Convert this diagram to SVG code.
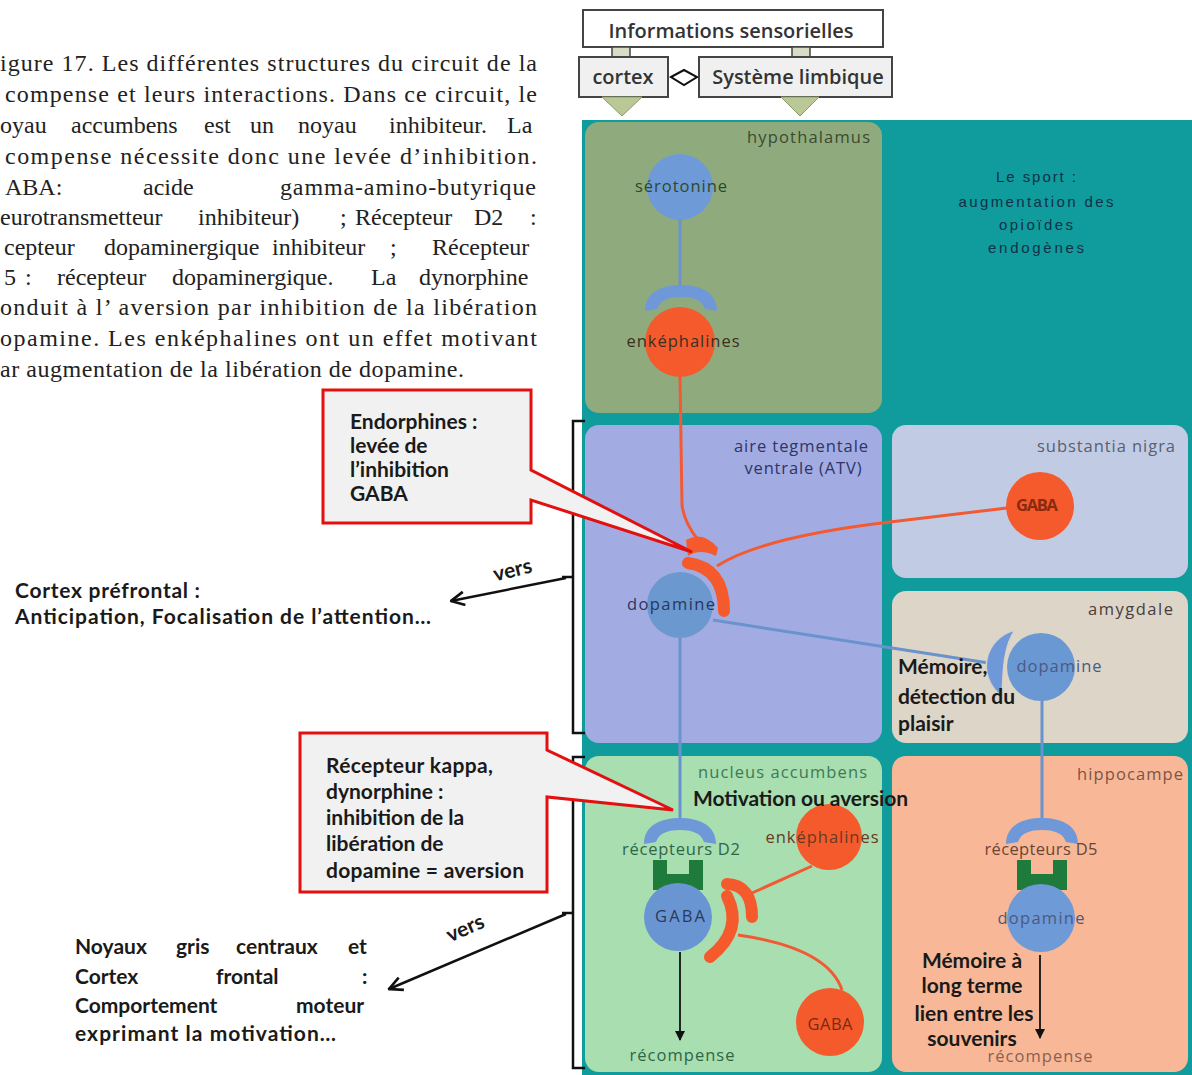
<svg xmlns="http://www.w3.org/2000/svg" width="1192" height="1075" viewBox="0 0 1192 1075">
<defs>
<style>
.para{font-family:"Liberation Serif","Times New Roman",serif;font-size:24px;fill:#222;}
.cal{font-family:Lato,"Open Sans",sans-serif;font-weight:700;font-size:21px;fill:#1a1a1a;}
.lbl{font-family:"Open Sans","Noto Sans",sans-serif;font-size:16.5px;}
.top{font-family:"Open Sans","Noto Sans",sans-serif;font-weight:600;font-size:20px;fill:#333;}
.sport{font-family:"Liberation Sans",Arial,sans-serif;font-size:15px;fill:#12304a;}
.box{fill:#f0f0f0;stroke:#444;stroke-width:2;}
.callout{fill:#f1f1f1;stroke:#e31010;stroke-width:3;stroke-linejoin:miter;}
.bluel{stroke:#6a92cc;stroke-width:3;fill:none;}
.redl{stroke:#f25a34;stroke-width:3;fill:none;}
.redcap{stroke:#f55a2c;stroke-width:12;fill:none;stroke-linecap:round;}
.blk{stroke:#111;stroke-width:2.5;fill:none;}
.mid{text-anchor:middle;}
.end{text-anchor:end;}
</style>
<path id="cap" d="M-36,26 C-36,7 -19,0 0,0 C19,0 36,7 36,26 L24,24 C21,15 12,12 0,12 C-12,12 -21,15 -24,24 Z" fill="#6f98d8"/>
<path id="ushape" d="M-25,0 h14 v14 h22 v-14 h14 v30 h-50 Z" fill="#1e7b3c"/>
<marker id="open" viewBox="0 0 12 12" refX="11" refY="6" markerWidth="16" markerHeight="16" markerUnits="userSpaceOnUse" orient="auto">
<path d="M1,1 L11,6 L1,11" fill="none" stroke="#111" stroke-width="2"/>
</marker>
<marker id="tri" viewBox="0 0 10 10" refX="9" refY="5" markerWidth="10" markerHeight="12" markerUnits="userSpaceOnUse" orient="auto">
<path d="M0,0 L10,5 L0,10 Z" fill="#111"/>
</marker>
</defs>
<rect width="1192" height="1075" fill="#ffffff"/>

<g id="caption">
<text class="para" x="0" y="71" textLength="537">igure 17. Les différentes structures du circuit de la</text>
<text class="para" x="5" y="102" textLength="532">compense et leurs interactions. Dans ce circuit, le</text>
<text class="para" y="133"><tspan x="0">oyau</tspan><tspan x="71">accumbens</tspan><tspan x="204">est</tspan><tspan x="250">un</tspan><tspan x="298">noyau</tspan><tspan x="389">inhibiteur.</tspan><tspan x="507">La</tspan></text>
<text class="para" x="5" y="164" textLength="532">compense nécessite donc une levée d’inhibition.</text>
<text class="para" y="195"><tspan x="5">ABA:</tspan><tspan x="143">acide</tspan></text>
<text class="para" x="280" y="195" textLength="256">gamma-amino-butyrique</text>
<text class="para" y="225"><tspan x="0">eurotransmetteur</tspan><tspan x="198">inhibiteur)</tspan><tspan x="340">;</tspan><tspan x="355">Récepteur</tspan><tspan x="474">D2</tspan><tspan x="530">:</tspan></text>
<text class="para" y="255"><tspan x="4">cepteur</tspan><tspan x="104">dopaminergique</tspan><tspan x="272">inhibiteur</tspan><tspan x="390">;</tspan><tspan x="432">Récepteur</tspan></text>
<text class="para" y="285"><tspan x="4">5</tspan><tspan x="25">:</tspan><tspan x="57">récepteur</tspan><tspan x="172">dopaminergique.</tspan><tspan x="371">La</tspan><tspan x="419">dynorphine</tspan></text>
<text class="para" x="0" y="315" textLength="537">onduit à l’ aversion par inhibition de la libération</text>
<text class="para" x="0" y="346" textLength="537">opamine. Les enképhalines ont un effet motivant</text>
<text class="para" x="0" y="377" textLength="464">ar augmentation de la libération de dopamine.</text>
</g>

<g id="inputs">
<g id="n-info"><rect class="box" x="583" y="10" width="300" height="37" style="fill:#fff"/><text class="top mid" x="731" y="38">Informations sensorielles</text></g>
<rect x="612" y="47" width="18" height="10" fill="#d9dcc4" stroke="#444" stroke-width="1.5"/>
<rect x="792" y="47" width="18" height="10" fill="#d9dcc4" stroke="#444" stroke-width="1.5"/>
<g id="n-cortex"><rect class="box" x="579" y="57" width="89" height="40"/><text class="top mid" x="623" y="84">cortex</text></g>
<g id="n-limbique"><rect class="box" x="699" y="57" width="193" height="40"/><text class="top mid" x="798" y="84">Système limbique</text></g>
<path d="M671,77 L684,70 L697,77 L684,85 Z" fill="#fff" stroke="#111" stroke-width="2"/>
<path d="M602,97 L642,97 L622,116 Z" fill="#b9c894" stroke="#8a9a6a" stroke-width="1"/>
<path d="M781,97 L819,97 L800,116 Z" fill="#b9c894" stroke="#8a9a6a" stroke-width="1"/>
</g>

<g id="background">
<rect x="582" y="120" width="610" height="955" fill="#109c9c"/>
</g>

<g id="n-hypothalamus">
<rect x="585" y="122" width="297" height="291" rx="14" fill="#8fab7e"/>
<text class="lbl end" x="870" y="143" fill="#3b4a2e" textLength="123">hypothalamus</text>
<circle cx="680" cy="187" r="33" fill="#6f9ad8"/>
<text class="lbl mid" x="681" y="192" fill="#2c4a28" textLength="92">sérotonine</text>
<circle cx="680" cy="342" r="35" fill="#f55a2c"/>
<text class="lbl mid" x="683" y="347" fill="#3a3020" textLength="113">enképhalines</text>
</g>

<g id="n-sport">
<text class="sport mid" x="1036" y="182" textLength="80">Le sport :</text>
<text class="sport mid" x="1036" y="207" textLength="155">augmentation des</text>
<text class="sport mid" x="1036" y="230" textLength="74">opioïdes</text>
<text class="sport mid" x="1036" y="253" textLength="96">endogènes</text>
</g>

<g id="n-atv">
<rect x="585" y="425" width="297" height="318" rx="14" fill="#a3ace2"/>
<text class="lbl mid" x="801" y="452" fill="#2d3566" textLength="134">aire tegmentale</text>
<text class="lbl mid" x="803" y="474" fill="#2d3566" textLength="117">ventrale (ATV)</text>
</g>

<g id="n-substantia">
<rect x="892" y="425" width="296" height="153" rx="14" fill="#c1cce4"/>
<text class="lbl end" x="1175" y="452" fill="#59606e" textLength="138">substantia nigra</text>
<circle cx="1040" cy="506" r="34" fill="#f55a2c"/>
<text class="lbl mid" x="1037" y="511" fill="#8a2a10" font-weight="700" textLength="42">GABA</text>
</g>

<g id="n-amygdale">
<rect x="892" y="591" width="296" height="152" rx="14" fill="#dcd5c8"/>
<text class="lbl end" x="1173" y="615" fill="#4a3c3c" textLength="85">amygdale</text>
</g>

<g id="n-nucleus">
<rect x="585" y="756" width="297" height="316" rx="14" fill="#a8deb0"/>
<text class="lbl end" x="867" y="778" fill="#3d7a55" textLength="169">nucleus accumbens</text>
</g>

<g id="n-hippocampe">
<rect x="892" y="756" width="296" height="316" rx="14" fill="#f8b898"/>
<text class="lbl end" x="1183" y="780" fill="#7a5545" textLength="106">hippocampe</text>
</g>

<g id="connectors">
<line class="bluel" x1="680" y1="219" x2="680" y2="286" stroke-width="4"/>
<path class="redl" d="M680,376 L682,505 Q684,522 698,540"/>
<path class="redl" d="M1007,508 L890,522 Q762,537 717,566"/>
<line class="bluel" x1="713" y1="620" x2="995" y2="664"/>
<line class="bluel" x1="680" y1="637" x2="680" y2="821"/>
<line class="bluel" x1="1042" y1="700" x2="1042" y2="821"/>
<path class="redl" d="M812,866 L752,893"/>
<path class="redl" d="M842,990 Q828,948 738,935"/>
<line x1="680" y1="952" x2="680" y2="1040" stroke="#111" stroke-width="1.8" marker-end="url(#tri)"/>
<line x1="1040" y1="955" x2="1040" y2="1038" stroke="#111" stroke-width="1.8" marker-end="url(#tri)"/>
<path class="blk" d="M585,421 H573 V733 H585 M573,577 H562"/>
<path class="blk" d="M585,757 H573 V1068 H585 M573,913 H562"/>
<line class="blk" x1="566" y1="578" x2="451" y2="601" marker-end="url(#open)"/>
<line class="blk" x1="566" y1="914" x2="389" y2="989" marker-end="url(#open)"/>
<text class="cal" x="513" y="577" font-size="16" font-weight="400" text-anchor="middle" transform="rotate(-14 513 572)">vers</text>
<text class="cal" x="466" y="935" font-size="16" font-weight="400" text-anchor="middle" transform="rotate(-24 466 930)">vers</text>
</g>

<g id="n-hyp-receptor"><use href="#cap" x="681" y="285"/></g>

<g id="n-atv-dopamine">
<path d="M686,540 Q703,530 718,548 L716,556 Q700,548 688,556 Z" fill="#f55a2c"/>
<circle cx="680" cy="605" r="33" fill="#6a98cf"/>
<path class="redcap" d="M688,563 Q724,568 724,611" stroke-width="13"/>
<text class="lbl mid" x="671" y="610" fill="#2a3560" textLength="88">dopamine</text>
</g>

<g id="n-amy-dopamine">
<path d="M1015,630 C985,638 975,675 1002,697 C1003,680 1002,648 1015,630 Z" fill="#6f98d8" stroke="#d8d2c8" stroke-width="1.5"/>
<circle cx="1041" cy="667" r="34" fill="#6a98d2"/>
<text class="lbl mid" x="1059" y="672" fill="#4a5a86" textLength="85">dopamine</text>
</g>

<g id="n-nuc-d2">
<use href="#cap" x="680" y="818"/>
<text class="lbl mid" x="681" y="855" fill="#2e6648" textLength="118">récepteurs D2</text>
<use href="#ushape" x="678" y="860"/>
<circle cx="678" cy="917" r="34" fill="#6a95d3"/>
<text class="lbl mid" x="680" y="922" fill="#2a3a5a" textLength="50">GABA</text>
<text class="lbl mid" x="682" y="1061" fill="#2e6648" textLength="105">récompense</text>
</g>

<g id="n-nuc-enk">
<circle cx="829" cy="837" r="33" fill="#f55a2c"/>
<text class="lbl mid" x="822" y="843" fill="#6a3a20" textLength="113">enképhalines</text>
<path class="redcap" d="M727,884 Q752,885 752,917"/>
<path class="redcap" d="M727,896 Q744,930 710,957" stroke-width="13"/>
</g>

<g id="n-nuc-gaba">
<circle cx="830" cy="1022" r="34" fill="#f55a2c"/>
<text class="lbl mid" x="830" y="1030" fill="#7a2a10" textLength="45">GABA</text>
</g>

<g id="n-hip-d5">
<use href="#cap" x="1042" y="818"/>
<text class="lbl mid" x="1041" y="855" fill="#6a4535" textLength="113">récepteurs D5</text>
<use href="#ushape" x="1042" y="860"/>
<circle cx="1041" cy="918" r="34" fill="#6e9ad8"/>
<text class="lbl mid" x="1041" y="924" fill="#4a5a80" textLength="87">dopamine</text>
<text class="lbl mid" x="1040" y="1062" fill="#8a6050" textLength="105">récompense</text>
</g>

<g id="annotations">
<text class="cal" x="693" y="806" font-size="20" textLength="215">Motivation ou aversion</text>
<text class="cal" x="898" y="674">Mémoire,</text>
<text class="cal" x="898" y="704" textLength="117">détection du</text>
<text class="cal" x="898" y="731">plaisir</text>
<text class="cal mid" x="972" y="968">Mémoire à</text>
<text class="cal mid" x="972" y="993">long terme</text>
<text class="cal mid" x="974" y="1021">lien entre les</text>
<text class="cal mid" x="972" y="1046">souvenirs</text>
</g>

<g id="n-callout-endorphines">
<path class="callout" d="M323,390 H531 V470 L692,552 L531,500 V523 H323 Z"/>
<text class="cal" x="350" y="429">Endorphines :</text>
<text class="cal" x="350" y="453">levée de</text>
<text class="cal" x="350" y="477">l’inhibition</text>
<text class="cal" x="350" y="501">GABA</text>
</g>

<g id="n-callout-kappa">
<path class="callout" d="M300,733 H547 V750 L673,810 L547,797 V892 H300 Z"/>
<text class="cal" x="326" y="773" textLength="167">Récepteur kappa,</text>
<text class="cal" x="326" y="799">dynorphine :</text>
<text class="cal" x="326" y="825">inhibition de la</text>
<text class="cal" x="326" y="851">libération de</text>
<text class="cal" x="326" y="878" textLength="198">dopamine = aversion</text>
</g>

<g id="n-prefrontal">
<text class="cal" x="15" y="598" textLength="185">Cortex préfrontal :</text>
<text class="cal" x="15" y="624" textLength="416">Anticipation, Focalisation de l’attention…</text>
</g>

<g id="n-noyaux">
<text class="cal" y="954"><tspan x="75">Noyaux</tspan><tspan x="176">gris</tspan><tspan x="236">centraux</tspan><tspan x="348">et</tspan></text>
<text class="cal" y="984"><tspan x="75">Cortex</tspan><tspan x="216">frontal</tspan><tspan x="362">:</tspan></text>
<text class="cal" y="1013"><tspan x="75">Comportement</tspan><tspan x="296">moteur</tspan></text>
<text class="cal" x="75" y="1041" textLength="261">exprimant la motivation…</text>
</g>
</svg>
